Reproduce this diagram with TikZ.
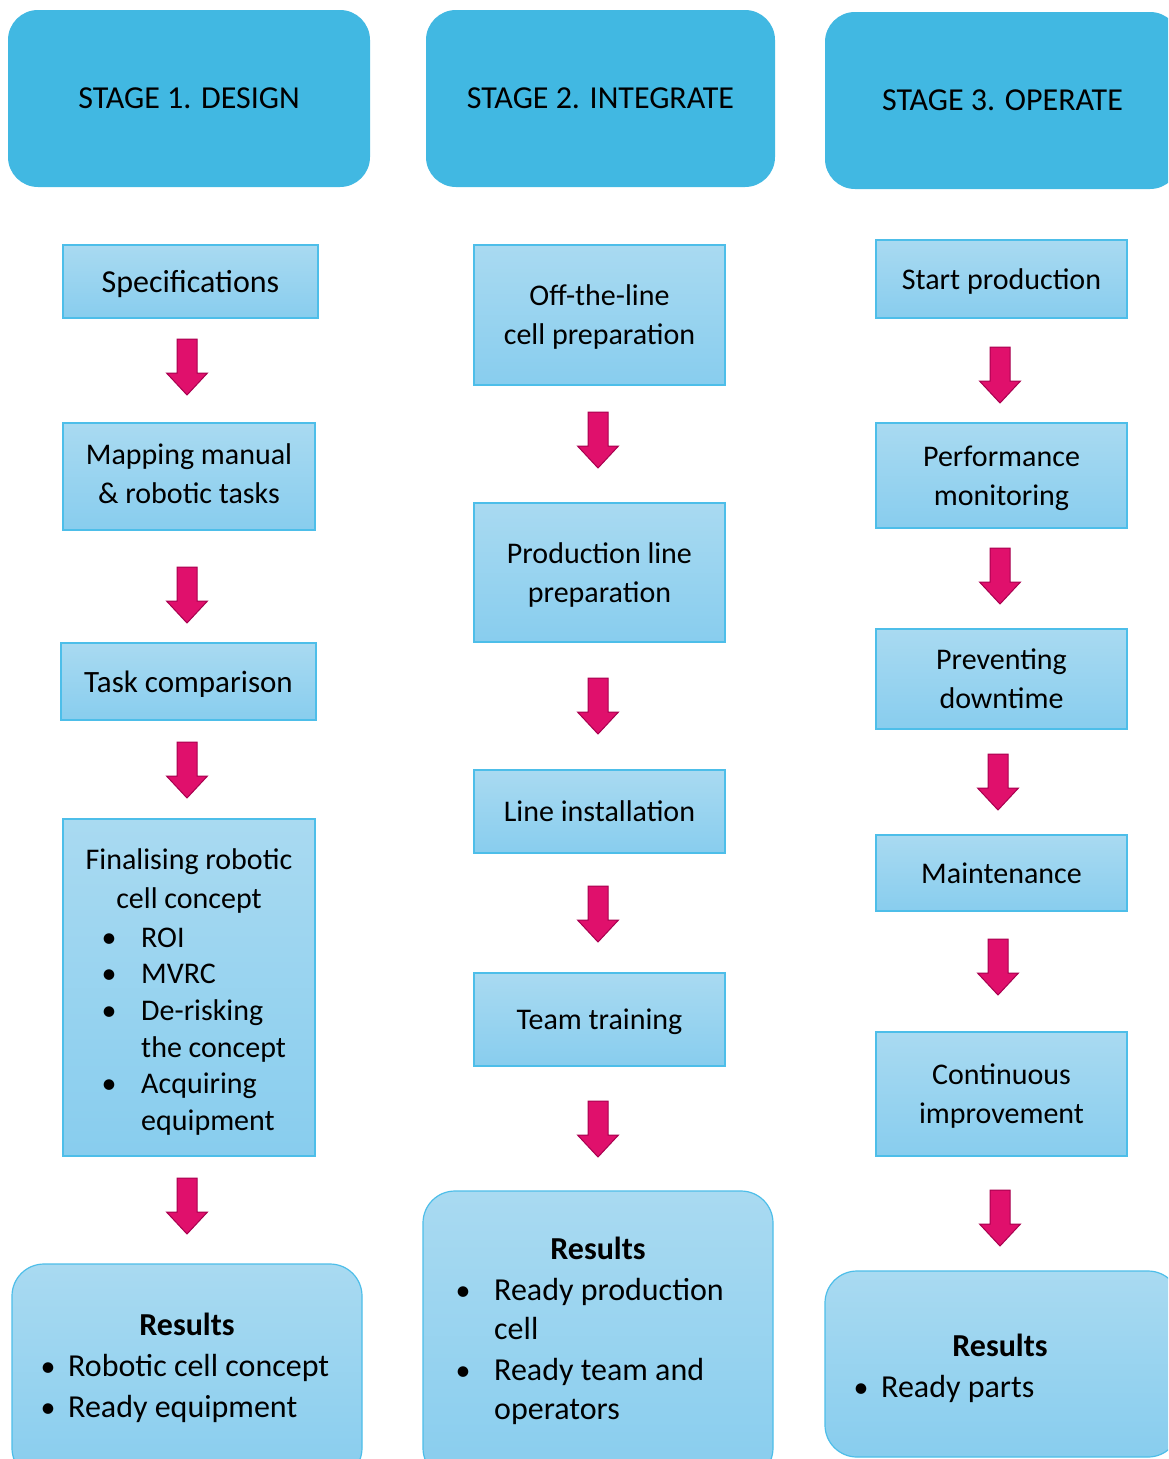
\documentclass[tikz,border=0pt]{standalone}
\usepackage{fontspec}
\setmainfont{Carlito}
\definecolor{stageblue}{HTML}{41B8E2}
\definecolor{boxtop}{HTML}{A9DAF1}
\definecolor{boxbot}{HTML}{88CDEE}
\definecolor{boxline}{HTML}{4DBEE9}
\definecolor{arrowfill}{HTML}{E0106C}
\definecolor{arrowline}{HTML}{A8004F}

\tikzset{
  stage/.style={rectangle, rounded corners=30pt, fill=stageblue, draw=none,
    font=\fontsize{32}{38}\selectfont},
  stepbox/.style={rectangle, draw=boxline, line width=1.2pt, top color=boxtop,
    bottom color=boxbot, align=center, inner sep=0pt, text depth=0pt,
    font=\fontsize{30}{39}\selectfont},
  resultbox/.style={stepbox, rounded corners=32pt},
  linetxt/.style={anchor=base west, inner sep=0pt, font=\fontsize{30}{39}\selectfont},
  restxt/.style={anchor=base west, inner sep=0pt, font=\fontsize{32}{41}\selectfont},
  headtxt/.style={anchor=base, inner sep=0pt, font=\fontsize{32}{41}\selectfont\bfseries},
  titletxt/.style={anchor=base, inner sep=0pt, font=\fontsize{30}{39}\selectfont},
  dot/.style={anchor=base, inner sep=0pt, font=\fontsize{30}{39}\selectfont},
  downarrow/.pic={
    \draw[fill=arrowfill, draw=arrowline, line width=1pt, line join=miter]
      (-10,0) -- (10,0) -- (10,34) -- (20.5,34) -- (0,56) -- (-20.5,34) -- (-10,34) -- cycle;}
}

\begin{document}
\begin{tikzpicture}[x=1pt, y=-1pt]
\useasboundingbox (0,0) rectangle (1168,1459);
\fill[white] (0,0) rectangle (1168,1459);
\clip (0,0) rectangle (1168,1459);

% stage headers
\node[stage, minimum width=362pt, minimum height=177pt] (h1) at (189,98.5) {STAGE 1. DESIGN};
\node[stage, minimum width=349pt, minimum height=177pt] (h2) at (600.5,98.5) {STAGE 2. INTEGRATE};
\node[stage, minimum width=355pt, minimum height=177pt] (h3) at (1002.5,100.5) {STAGE 3. OPERATE};

% stage 1 steps
\node[stepbox, minimum width=255pt, minimum height=73pt, font=\fontsize{32}{39}\selectfont] (spec) at (190.5,281.5) {Specifications};
\node[stepbox, minimum width=252pt, minimum height=107pt, text depth=6pt] (map) at (189,476.5) {Mapping manual\\\& robotic tasks};
\node[stepbox, minimum width=255pt, minimum height=77pt, font=\fontsize{31}{39}\selectfont] (task) at (188.5,681.5) {Task comparison};
\node[stepbox, minimum width=252pt, minimum height=337pt] (fin) at (189,987.5) {};
\node[resultbox, minimum width=350pt, minimum height=216pt] (res1) at (187,1372) {};

\node[titletxt] (fin1) at (189,869) {Finalising robotic};
\node[titletxt] (fin2) at (189,908) {cell concept};
\foreach \y [count=\i] in {947, 983, 1020, 1093}
  \node[dot] (fb\i) at (109,\y) {•};
\foreach \y/\t [count=\i] in {947/ROI, 983/MVRC, 1020/De-risking, 1057/the concept, 1093/Acquiring, 1130/equipment}
  \node[linetxt] (fl\i) at (141,\y) {\t};

\node[headtxt] (r1h) at (187,1335) {Results};
\node[dot] (r1b1) at (48,1376) {•};
\node[dot] (r1b2) at (48,1417) {•};
\node[restxt] (r1t1) at (68,1376) {Robotic cell concept};
\node[restxt] (r1t2) at (68,1417) {Ready equipment};

% stage 2 steps
\node[stepbox, minimum width=251pt, minimum height=140pt] (off) at (599.5,315) {Off-the-line\\cell preparation};
\node[stepbox, minimum width=251pt, minimum height=139pt] (prod) at (599.5,572.5) {Production line\\preparation};
\node[stepbox, minimum width=251pt, minimum height=83pt] (inst) at (599.5,811.5) {Line installation};
\node[stepbox, minimum width=251pt, minimum height=93pt] (team) at (599.5,1019.5) {Team training};
\node[resultbox, minimum width=350pt, minimum height=289pt] (res2) at (598,1335.5) {};

\node[headtxt] (r2h) at (598,1259) {Results};
\node[dot] (r2b1) at (463,1300) {•};
\node[dot] (r2b2) at (463,1380) {•};
\node[restxt] (r2t1) at (494,1300) {Ready production};
\node[restxt] (r2t2) at (494,1339) {cell};
\node[restxt] (r2t3) at (494,1380) {Ready team and};
\node[restxt] (r2t4) at (494,1419) {operators};

% stage 3 steps
\node[stepbox, minimum width=251pt, minimum height=78pt] (start) at (1001.5,279) {Start production};
\node[stepbox, minimum width=251pt, minimum height=105pt] (perf) at (1001.5,475.5) {Performance\\monitoring};
\node[stepbox, minimum width=251pt, minimum height=100pt] (prev) at (1001.5,679) {Preventing\\downtime};
\node[stepbox, minimum width=251pt, minimum height=76pt] (maint) at (1001.5,873) {Maintenance};
\node[stepbox, minimum width=251pt, minimum height=124pt] (cont) at (1001.5,1094) {Continuous\\improvement};
\node[resultbox, minimum width=355pt, minimum height=186pt] (res3) at (1002.5,1364) {};

\node[headtxt] (r3h) at (1000,1356) {Results};
\node[dot] (r3b1) at (861,1397) {•};
\node[restxt] (r3t1) at (881,1397) {Ready parts};

% block arrows between steps
\pic (a11) at (187,339) {downarrow};
\pic (a12) at (187,567) {downarrow};
\pic (a13) at (187,742) {downarrow};
\pic (a14) at (187,1178) {downarrow};
\pic (a21) at (598,412) {downarrow};
\pic (a22) at (598,678) {downarrow};
\pic (a23) at (598,886) {downarrow};
\pic (a24) at (598,1101) {downarrow};
\pic (a31) at (1000,347) {downarrow};
\pic (a32) at (1000,548) {downarrow};
\pic (a33) at (998,754) {downarrow};
\pic (a34) at (998,939) {downarrow};
\pic (a35) at (1000,1190) {downarrow};
\end{tikzpicture}
\end{document}
